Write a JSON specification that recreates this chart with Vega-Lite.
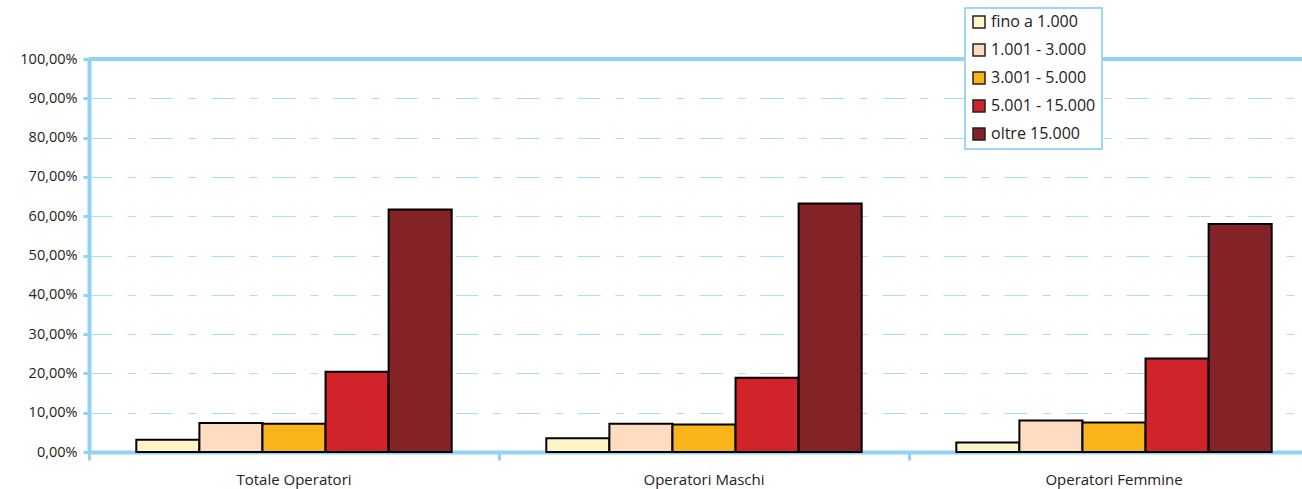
{
  "$schema": "https://vega.github.io/schema/vega-lite/v6.json",
  "autosize": {"type": "none"},
  "width": 1213,
  "height": 393,
  "padding": {"left": 89, "top": 59, "right": 0, "bottom": 37},
  "background": "white",
  "config": {
    "view": {"stroke": null},
    "font": "Open Sans",
    "locale": {"number": {"decimal": ",", "thousands": ".", "grouping": [3], "currency": ["", " €"]}},
    "legend": {"strokeWidth": 2},
    "axisX": {
      "labelAngle": 0, "bandPosition": 0,
      "domainColor": "#92d2f2", "domainWidth": 4,
      "tickColor": "#92d2f2", "tickWidth": 3, "tickSize": 8,
      "labelFontSize": 15, "labelColor": "#222222", "labelPadding": 12,
      "grid": false
    },
    "axisY": {
      "domainColor": "#92d2f2", "domainWidth": 4,
      "tickColor": "#92d2f2", "tickWidth": 3, "tickSize": 6,
      "labelFontSize": 14.5, "labelColor": "#222222", "labelPadding": 6,
      "labelOverlap": false,
      "grid": true, "gridColor": "#a9ddf5", "gridWidth": 1,
      "gridDash": [23, 15, 8, 15]
    }
  },
  "data": {
    "values": [
      {"gruppo": "Totale Operatori", "classe": "fino a 1.000", "valore": 0.031},
      {"gruppo": "Totale Operatori", "classe": "1.001 - 3.000", "valore": 0.074},
      {"gruppo": "Totale Operatori", "classe": "3.001 - 5.000", "valore": 0.072},
      {"gruppo": "Totale Operatori", "classe": "5.001 - 15.000", "valore": 0.204},
      {"gruppo": "Totale Operatori", "classe": "oltre 15.000", "valore": 0.617},
      {"gruppo": "Operatori Maschi", "classe": "fino a 1.000", "valore": 0.035},
      {"gruppo": "Operatori Maschi", "classe": "1.001 - 3.000", "valore": 0.072},
      {"gruppo": "Operatori Maschi", "classe": "3.001 - 5.000", "valore": 0.070},
      {"gruppo": "Operatori Maschi", "classe": "5.001 - 15.000", "valore": 0.189},
      {"gruppo": "Operatori Maschi", "classe": "oltre 15.000", "valore": 0.632},
      {"gruppo": "Operatori Femmine", "classe": "fino a 1.000", "valore": 0.024},
      {"gruppo": "Operatori Femmine", "classe": "1.001 - 3.000", "valore": 0.080},
      {"gruppo": "Operatori Femmine", "classe": "3.001 - 5.000", "valore": 0.075},
      {"gruppo": "Operatori Femmine", "classe": "5.001 - 15.000", "valore": 0.238},
      {"gruppo": "Operatori Femmine", "classe": "oltre 15.000", "valore": 0.580}
    ]
  },
  "layer": [
    {
      "mark": {"type": "bar", "stroke": "#000000", "strokeWidth": 2},
      "encoding": {
        "x": {
          "field": "gruppo", "type": "nominal", "sort": null, "title": null,
          "scale": {"range": [0, 1230], "paddingInner": 0, "paddingOuter": 0}
        },
        "xOffset": {
          "field": "classe", "type": "nominal",
          "sort": ["fino a 1.000", "1.001 - 3.000", "3.001 - 5.000", "5.001 - 15.000", "oltre 15.000"],
          "scale": {"paddingInner": 0, "paddingOuter": 0.75}
        },
        "y": {
          "field": "valore", "type": "quantitative", "title": null,
          "scale": {"domain": [0, 1], "nice": false},
          "axis": {
            "values": [0, 0.1, 0.2, 0.3, 0.4, 0.5, 0.6, 0.7, 0.8, 0.9, 1],
            "format": ".2%"
          }
        },
        "color": {
          "field": "classe", "type": "nominal", "title": null,
          "sort": ["fino a 1.000", "1.001 - 3.000", "3.001 - 5.000", "5.001 - 15.000", "oltre 15.000"],
          "scale": {
            "domain": ["fino a 1.000", "1.001 - 3.000", "3.001 - 5.000", "5.001 - 15.000", "oltre 15.000"],
            "range": ["#fff5c8", "#fddcc2", "#f9b419", "#d0232a", "#832327"]
          },
          "legend": {
            "orient": "none", "legendX": 876, "legendY": -51,
            "padding": 6, "strokeColor": "#9fd6f2", "fillColor": "white",
            "symbolType": "square", "symbolSize": 144, "symbolStrokeColor": "#222222",
            "symbolStrokeWidth": 1.5, "symbolOpacity": 1,
            "labelFontSize": 16, "labelColor": "#222222", "labelOffset": 4,
            "rowPadding": 10
          }
        }
      }
    },
    {
      "mark": {"type": "rule", "color": "#92d2f2", "strokeWidth": 4},
      "encoding": {
        "y": {
          "datum": 1, "type": "quantitative", "title": null,
          "axis": {
            "values": [0, 0.1, 0.2, 0.3, 0.4, 0.5, 0.6, 0.7, 0.8, 0.9, 1],
            "format": ".2%"
          }
        }
      }
    }
  ]
}
